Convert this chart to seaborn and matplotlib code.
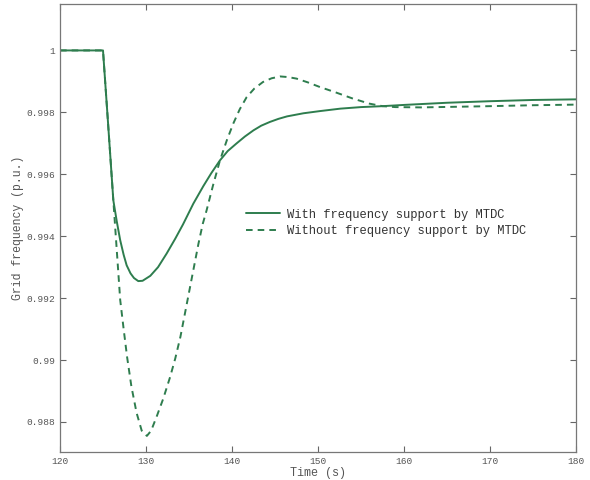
import matplotlib
matplotlib.use('Agg')
import matplotlib.pyplot as plt
import pandas as pd
import seaborn as sns

# values
t_with = [120, 125, 125.6, 126.2, 126.6, 127.0, 127.4, 127.75, 128.2, 128.6, 129.1,
          129.6, 130.5, 131.4, 132.4, 133.4, 134.3, 135.5, 136.67, 137.6, 138.6,
          139.5, 140.5, 141.5, 142.5, 143.4, 144.4, 145.4, 146.4, 148.3, 150.2,
          152.6, 155, 157.5, 160, 165, 170, 175, 180]
f_with = [1.0, 1.0, 0.9976, 0.99516, 0.99448, 0.99387, 0.9934, 0.99306, 0.9928, 0.99265, 0.99255,
          0.99256, 0.99272, 0.993, 0.99344, 0.99392, 0.99438, 0.99505, 0.99562, 0.99604, 0.99645,
          0.99675, 0.99699, 0.99722, 0.99742, 0.99757, 0.99769, 0.99779, 0.99787, 0.99797, 0.99804,
          0.99812, 0.99817, 0.9982, 0.99824, 0.99831, 0.99836, 0.9984, 0.99842]

t_without = [120, 125, 125.6, 126.2, 126.6, 127.0, 127.4, 127.8, 128.3, 128.9, 129.5,
             130.1, 130.6, 131.3, 132.0, 132.8, 133.4, 134.0, 134.9, 135.5, 136.1,
             136.6, 137.05, 137.8, 138.6, 139.4, 140.15, 140.9, 141.7, 142.6, 143.6,
             144.6, 145.6, 146.5, 147.5, 148.8, 150.2, 152, 154, 156, 157.5,
             159, 162, 166, 170, 175, 180]
f_without = [1.0, 1.0, 0.9976, 0.99516, 0.99355, 0.99194, 0.991, 0.9901, 0.98915, 0.9883, 0.98772,
             0.98755, 0.98772, 0.98822, 0.98875, 0.98945, 0.99005, 0.99075, 0.99204, 0.9929, 0.99376,
             0.9944, 0.99484, 0.99565, 0.99645, 0.9971, 0.99764, 0.9981, 0.99849, 0.99877, 0.99898,
             0.9991, 0.99916, 0.99914, 0.99909, 0.99897, 0.99882, 0.99865, 0.99845, 0.99828, 0.9982,
             0.99817, 0.99816, 0.99818, 0.9982, 0.99823, 0.99825]

labels = ['With frequency support by MTDC', 'Without frequency support by MTDC']
x_ticks = [120, 130, 140, 150, 160, 170, 180]
y_ticks = [0.988, 0.99, 0.992, 0.994, 0.996, 0.998, 1.0]
y_tick_labels = ['0.988', '0.99', '0.992', '0.994', '0.996', '0.998', '1']

GREEN = '#2e7d4e'
GREY = '#555555'

sns.set_style('white')
plt.rcParams['font.family'] = ['Liberation Mono', 'DejaVu Sans Mono']

df_with = pd.DataFrame({'t': t_with, 'f': f_with})
df_without = pd.DataFrame({'t': t_without, 'f': f_without})

fig = plt.figure(figsize=(5.9, 4.8), dpi=100)
ax = fig.add_axes([0.1017, 0.0583, 0.8746, 0.9334])

sns.lineplot(data=df_with, x='t', y='f', ax=ax, color=GREEN, lw=1.4,
             label=labels[0], sort=False)
sns.lineplot(data=df_without, x='t', y='f', ax=ax, color=GREEN, lw=1.4,
             label=labels[1], sort=False, linestyle=(0, (3.4, 2.6)))

ax.set_xlim(120, 180)
ax.set_ylim(0.98703, 1.0015)
ax.set_xticks(x_ticks)
ax.set_yticks(y_ticks)
ax.set_yticklabels(y_tick_labels)
ax.tick_params(direction='in', length=4, width=0.8, colors='#666666',
               labelcolor=GREY, labelsize=6.8, top=True, right=True,
               bottom=True, left=True)
for s in ax.spines.values():
    s.set_color('#777777')
    s.set_linewidth(0.9)

ax.set_xlabel('Time (s)', fontsize=8.5, color=GREY, labelpad=1)
ax.set_ylabel('Grid frequency (p.u.)', fontsize=8.3, color=GREY)
ax.yaxis.set_label_coords(-0.07, 0.5)

leg = ax.legend(loc='center left', bbox_to_anchor=(0.34, 0.512), frameon=False,
                fontsize=8.7, handlelength=2.8, handletextpad=0.6, labelspacing=0.35)
for txt in leg.get_texts():
    txt.set_color('#333333')

fig.savefig('out.png', dpi=100)
